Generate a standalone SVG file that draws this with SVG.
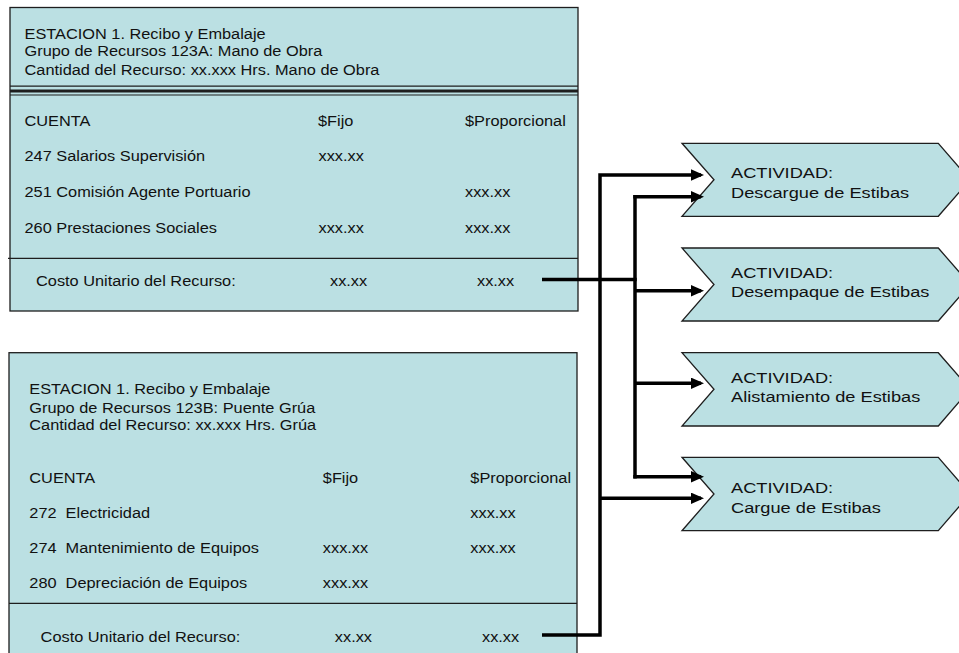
<svg xmlns="http://www.w3.org/2000/svg" width="959" height="653" viewBox="0 0 959 653">
  <style>
    .box { fill: #BBE0E3; stroke: #1e1e1e; stroke-width: 1.3; }
    .rule { stroke: #1e1e1e; fill: none; }
    .t { font-family: "Liberation Sans", Arial, Helvetica, sans-serif; font-size: 15px; fill: #111; white-space: pre; }
    .a { font-family: "Liberation Sans", Arial, Helvetica, sans-serif; font-size: 15.5px; fill: #111; }
    .wire { fill: none; stroke: #000; stroke-width: 3.5; stroke-linejoin: miter; stroke-linecap: butt; }
    .arrow { fill: none; stroke: #000; stroke-width: 3.5; marker-end: url(#head); }
  </style>
  <defs>
    <marker id="head" markerUnits="userSpaceOnUse" markerWidth="14" markerHeight="12" refX="10" refY="5.7" orient="auto">
      <path d="M0,0 L13,5.7 L0,11.4 z" fill="#000"/>
    </marker>
  </defs>

  <rect width="959" height="653" fill="#fff"/>

  <!-- Resource group 123A: labour -->
  <g id="recurso-123A">
    <rect class="box" x="10" y="7.5" width="568" height="303.5"/>
    <line class="rule" x1="10" y1="86.2" x2="578" y2="86.2" stroke-width="1.2"/>
    <line class="rule" x1="10" y1="91" x2="578" y2="91" stroke-width="3"/>
    <line class="rule" x1="10" y1="95" x2="578" y2="95" stroke-width="1.2"/>
    <line class="rule" x1="8" y1="258.3" x2="578" y2="258.3" stroke-width="1.3"/>
    <text class="t" transform="translate(24.5 39) scale(1.09 1)">ESTACION 1. Recibo y Embalaje</text>
    <text class="t" transform="translate(24.5 56) scale(1.09 1)">Grupo de Recursos 123A: Mano de Obra</text>
    <text class="t" transform="translate(24.5 75) scale(1.09 1)">Cantidad del Recurso: xx.xxx Hrs. Mano de Obra</text>
    <text class="t" transform="translate(24.5 126) scale(1.09 1)">CUENTA</text>
    <text class="t" transform="translate(318 126) scale(1.09 1)">$Fijo</text>
    <text class="t" transform="translate(465 126) scale(1.09 1)">$Proporcional</text>
    <text class="t" transform="translate(24.5 161) scale(1.09 1)">247 Salarios Supervisión</text>
    <text class="t" transform="translate(318.5 161) scale(1.09 1)">xxx.xx</text>
    <text class="t" transform="translate(24.5 196.7) scale(1.09 1)">251 Comisión Agente Portuario</text>
    <text class="t" transform="translate(465 196.7) scale(1.09 1)">xxx.xx</text>
    <text class="t" transform="translate(24.5 232.7) scale(1.09 1)">260 Prestaciones Sociales</text>
    <text class="t" transform="translate(318.5 232.7) scale(1.09 1)">xxx.xx</text>
    <text class="t" transform="translate(465 232.7) scale(1.09 1)">xxx.xx</text>
    <text class="t" transform="translate(36 286) scale(1.09 1)">Costo Unitario del Recurso:</text>
    <text class="t" transform="translate(330 286) scale(1.09 1)">xx.xx</text>
    <text class="t" transform="translate(477 286) scale(1.09 1)">xx.xx</text>
  </g>

  <!-- Resource group 123B: bridge crane -->
  <g id="recurso-123B">
    <rect class="box" x="9" y="352.7" width="568" height="310"/>
    <line class="rule" x1="9" y1="603.3" x2="577" y2="603.3" stroke-width="1.3"/>
    <text class="t" transform="translate(29.3 394) scale(1.09 1)">ESTACION 1. Recibo y Embalaje</text>
    <text class="t" transform="translate(29.3 412.7) scale(1.09 1)">Grupo de Recursos 123B: Puente Grúa</text>
    <text class="t" transform="translate(29.3 430) scale(1.09 1)">Cantidad del Recurso: xx.xxx Hrs. Grúa</text>
    <text class="t" transform="translate(29.3 482.7) scale(1.09 1)">CUENTA</text>
    <text class="t" transform="translate(322.8 482.7) scale(1.09 1)">$Fijo</text>
    <text class="t" transform="translate(470.3 482.7) scale(1.09 1)">$Proporcional</text>
    <text class="t" transform="translate(29.3 518.3) scale(1.09 1)">272  Electricidad</text>
    <text class="t" transform="translate(470.3 518.3) scale(1.09 1)">xxx.xx</text>
    <text class="t" transform="translate(29.3 553.3) scale(1.09 1)">274  Mantenimiento de Equipos</text>
    <text class="t" transform="translate(322.8 553.3) scale(1.09 1)">xxx.xx</text>
    <text class="t" transform="translate(470.3 553.3) scale(1.09 1)">xxx.xx</text>
    <text class="t" transform="translate(29.3 588.3) scale(1.09 1)">280  Depreciación de Equipos</text>
    <text class="t" transform="translate(322.8 588.3) scale(1.09 1)">xxx.xx</text>
    <text class="t" transform="translate(40.6 641.7) scale(1.09 1)">Costo Unitario del Recurso:</text>
    <text class="t" transform="translate(334.8 641.7) scale(1.09 1)">xx.xx</text>
    <text class="t" transform="translate(482 641.7) scale(1.09 1)">xx.xx</text>
  </g>

  <!-- Activities (chevrons) -->
  <g id="act-descargue">
    <path class="box" d="M682,143.3 H938.3 L970,179.8 L938.3,216.3 H682 L714,179.8 Z"/>
    <text class="a" transform="translate(731 178.3) scale(1.175 1)">ACTIVIDAD:</text>
    <text class="a" transform="translate(731 198.3) scale(1.175 1)">Descargue de Estibas</text>
  </g>
  <g id="act-desempaque">
    <path class="box" d="M682,248 H938.3 L970,284.5 L938.3,321 H682 L714,284.5 Z"/>
    <text class="a" transform="translate(731 277.7) scale(1.175 1)">ACTIVIDAD:</text>
    <text class="a" transform="translate(731 296.7) scale(1.175 1)">Desempaque de Estibas</text>
  </g>
  <g id="act-alistamiento">
    <path class="box" d="M682,352.7 H938.3 L970,389.3 L938.3,426 H682 L714,389.3 Z"/>
    <text class="a" transform="translate(731 382.7) scale(1.175 1)">ACTIVIDAD:</text>
    <text class="a" transform="translate(731 401.7) scale(1.175 1)">Alistamiento de Estibas</text>
  </g>
  <g id="act-cargue">
    <path class="box" d="M682,457.3 H938.3 L970,494 L938.3,530.7 H682 L714,494 Z"/>
    <text class="a" transform="translate(731 493.3) scale(1.175 1)">ACTIVIDAD:</text>
    <text class="a" transform="translate(731 512.7) scale(1.175 1)">Cargue de Estibas</text>
  </g>

  <!-- Cost assignment connectors -->
  <g id="connectors">
    <path class="wire" d="M542,279.5 H636.7"/>
    <path class="wire" d="M635,195 V478.4"/>
    <path class="arrow" d="M633.3,196.7 H701"/>
    <path class="arrow" d="M635,290.7 H701"/>
    <path class="arrow" d="M635,383.3 H701"/>
    <path class="arrow" d="M633.3,476.7 H701"/>
    <path class="arrow" d="M542,635 H600 V175 H701"/>
    <path class="arrow" d="M600,498.3 H701"/>
  </g>
</svg>
